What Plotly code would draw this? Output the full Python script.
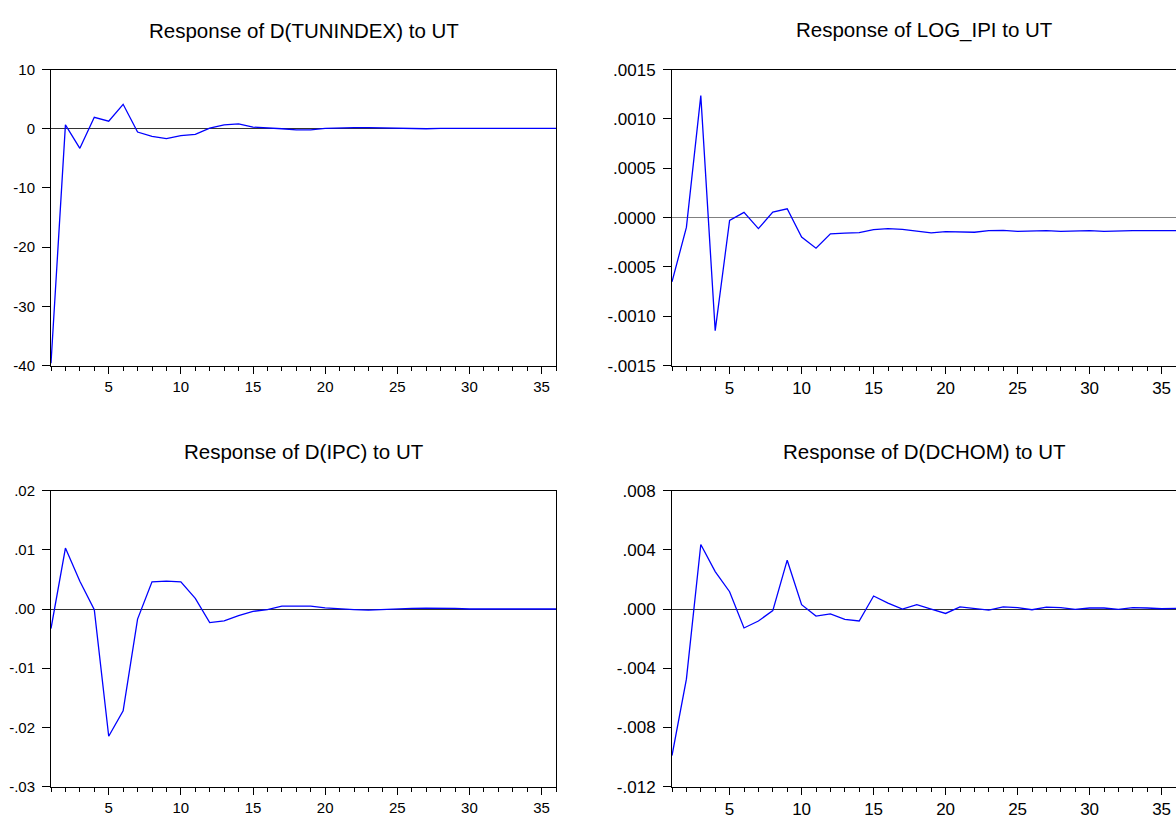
import plotly.graph_objects as go

periods = list(range(1, 37))

titles = [
    "Response of D(TUNINDEX) to UT",
    "Response of LOG_IPI to UT",
    "Response of D(IPC) to UT",
    "Response of D(DCHOM) to UT",
]

tunindex = [-39.6, 0.66, -3.3, 1.93, 1.27, 4.13, -0.55, -1.27, -1.65, -1.16,
            -0.94, 0.11, 0.66, 0.83, 0.28, 0.2, 0.0, -0.17, -0.2, 0.05,
            0.15, 0.2, 0.2, 0.15, 0.05, 0.05, 0.0, 0.05, 0.05, 0.1,
            0.1, 0.08, 0.1, 0.08, 0.05, 0.05]

log_ipi = [-0.00065, -0.0001, 0.001236, -0.001146, -0.00003, 0.000053, -0.000112,
           0.000056, 0.000089, -0.000198, -0.00031, -0.000165, -0.000158,
           -0.000152, -0.000122, -0.000112, -0.000119, -0.000135, -0.000155,
           -0.000142, -0.000142, -0.000149, -0.000132, -0.000129, -0.000139,
           -0.000132, -0.000132, -0.000139, -0.000135, -0.000132, -0.000139,
           -0.000132, -0.000132, -0.000132, -0.000132, -0.000132]

ipc = [-0.0033, 0.0103, 0.0047, -0.0001, -0.0215, -0.0172, -0.0017, 0.0046,
       0.0047, 0.0046, 0.0018, -0.0023, -0.0020, -0.0011, -0.0004, -0.0001,
       0.0005, 0.0005, 0.0005, 0.0002, 0.0, -0.0001, -0.0002, -0.0001,
       0.0001, 0.0001, 0.00015, 0.00015, 0.0001, 0.0, 0.0, 0.0, 0.0, 0.0, 0.0, 0.0]

dchom = [-0.0099, -0.00474, 0.00436, 0.00253, 0.00117, -0.00128, -0.00081,
         -0.00011, 0.0033, 0.00029, -0.00048, -0.00033, -0.0007, -0.00081,
         0.00088, 0.0004, 0.0, 0.0003, 0.0, -0.0003, 0.00015, 0.00005,
         -0.00007, 0.00015, 0.0001, -0.00005, 0.00013, 0.0001, -0.00002,
         0.00007, 0.00007, -0.00002, 0.00009, 0.00007, 0.00002, 0.00004]

series = [tunindex, log_ipi, ipc, dchom]

ytick_vals = [
    [-40, -30, -20, -10, 0, 10],
    [-0.0015, -0.0010, -0.0005, 0.0, 0.0005, 0.0010, 0.0015],
    [-0.03, -0.02, -0.01, 0.0, 0.01, 0.02],
    [-0.012, -0.008, -0.004, 0.0, 0.004, 0.008],
]
ytick_text = [
    ["-40", "-30", "-20", "-10", "0", "10"],
    ["-.0015", "-.0010", "-.0005", ".0000", ".0005", ".0010", ".0015"],
    ["-.03", "-.02", "-.01", ".00", ".01", ".02"],
    ["-.012", "-.008", "-.004", ".000", ".004", ".008"],
]

W, H = 1176, 823
# pixel boxes of each plot area (left, right, top, bottom)
boxes = [(51, 556, 62, 365), (672, 1176, 62, 365),
         (51, 556, 493, 796), (672, 1176, 493, 796)]
zero_colors = ["#333333", "#808080", "#333333", "#333333"]
tick_sizes = [15, 17, 15, 17]

fig = go.Figure()
FONT = "Liberation Sans, Arial, sans-serif"
layout = dict(
    width=W, height=H,
    margin=dict(l=0, r=0, t=0, b=0),
    paper_bgcolor="white", plot_bgcolor="white",
    showlegend=False,
    font=dict(family=FONT, color="black", size=15),
    annotations=[],
)

for i in range(4):
    l, r, t, b = boxes[i]
    xa = "xaxis" if i == 0 else f"xaxis{i+1}"
    ya = "yaxis" if i == 0 else f"yaxis{i+1}"
    xr = "x" if i == 0 else f"x{i+1}"
    yr = "y" if i == 0 else f"y{i+1}"
    fig.add_trace(go.Scatter(x=periods, y=series[i], mode="lines",
                             line=dict(color="#0000FF", width=1.3),
                             xaxis=xr, yaxis=yr, hoverinfo="skip"))
    yv = ytick_vals[i]
    layout[xa] = dict(
        domain=[l / W, r / W], anchor=yr,
        range=[1, 36], tickmode="linear", tick0=5, dtick=5,
        ticks="outside", ticklen=7, tickcolor="black", tickwidth=1,
        minor=dict(dtick=1, tick0=0, ticks="outside", ticklen=4,
                   tickcolor="black", tickwidth=1),
        showline=True, linecolor="black", linewidth=1, mirror=True,
        showgrid=False, zeroline=False,
        tickfont=dict(size=tick_sizes[i], family=FONT),
    )
    layout[ya] = dict(
        domain=[1 - b / H, 1 - t / H], anchor=xr,
        range=[yv[0], yv[-1]], tickmode="array",
        tickvals=yv, ticktext=ytick_text[i],
        ticks="outside", ticklen=8, tickcolor="black", tickwidth=1,
        showline=True, linecolor="black", linewidth=1,
        mirror=(i in (0, 2)),
        showgrid=False, zeroline=True, zerolinecolor=zero_colors[i],
        zerolinewidth=1.2,
        tickfont=dict(size=tick_sizes[i], family=FONT),
        ticklabelstandoff=4,
    )
    layout["annotations"].append(dict(
        text=titles[i], x=(l + r) / 2 / W, y=1 - (t - 40) / H,
        xref="paper", yref="paper", showarrow=False,
        xanchor="center", yanchor="middle",
        font=dict(size=20.5, family=FONT, color="black"),
    ))

fig.update_layout(**layout)
fig.write_html("out.html")
